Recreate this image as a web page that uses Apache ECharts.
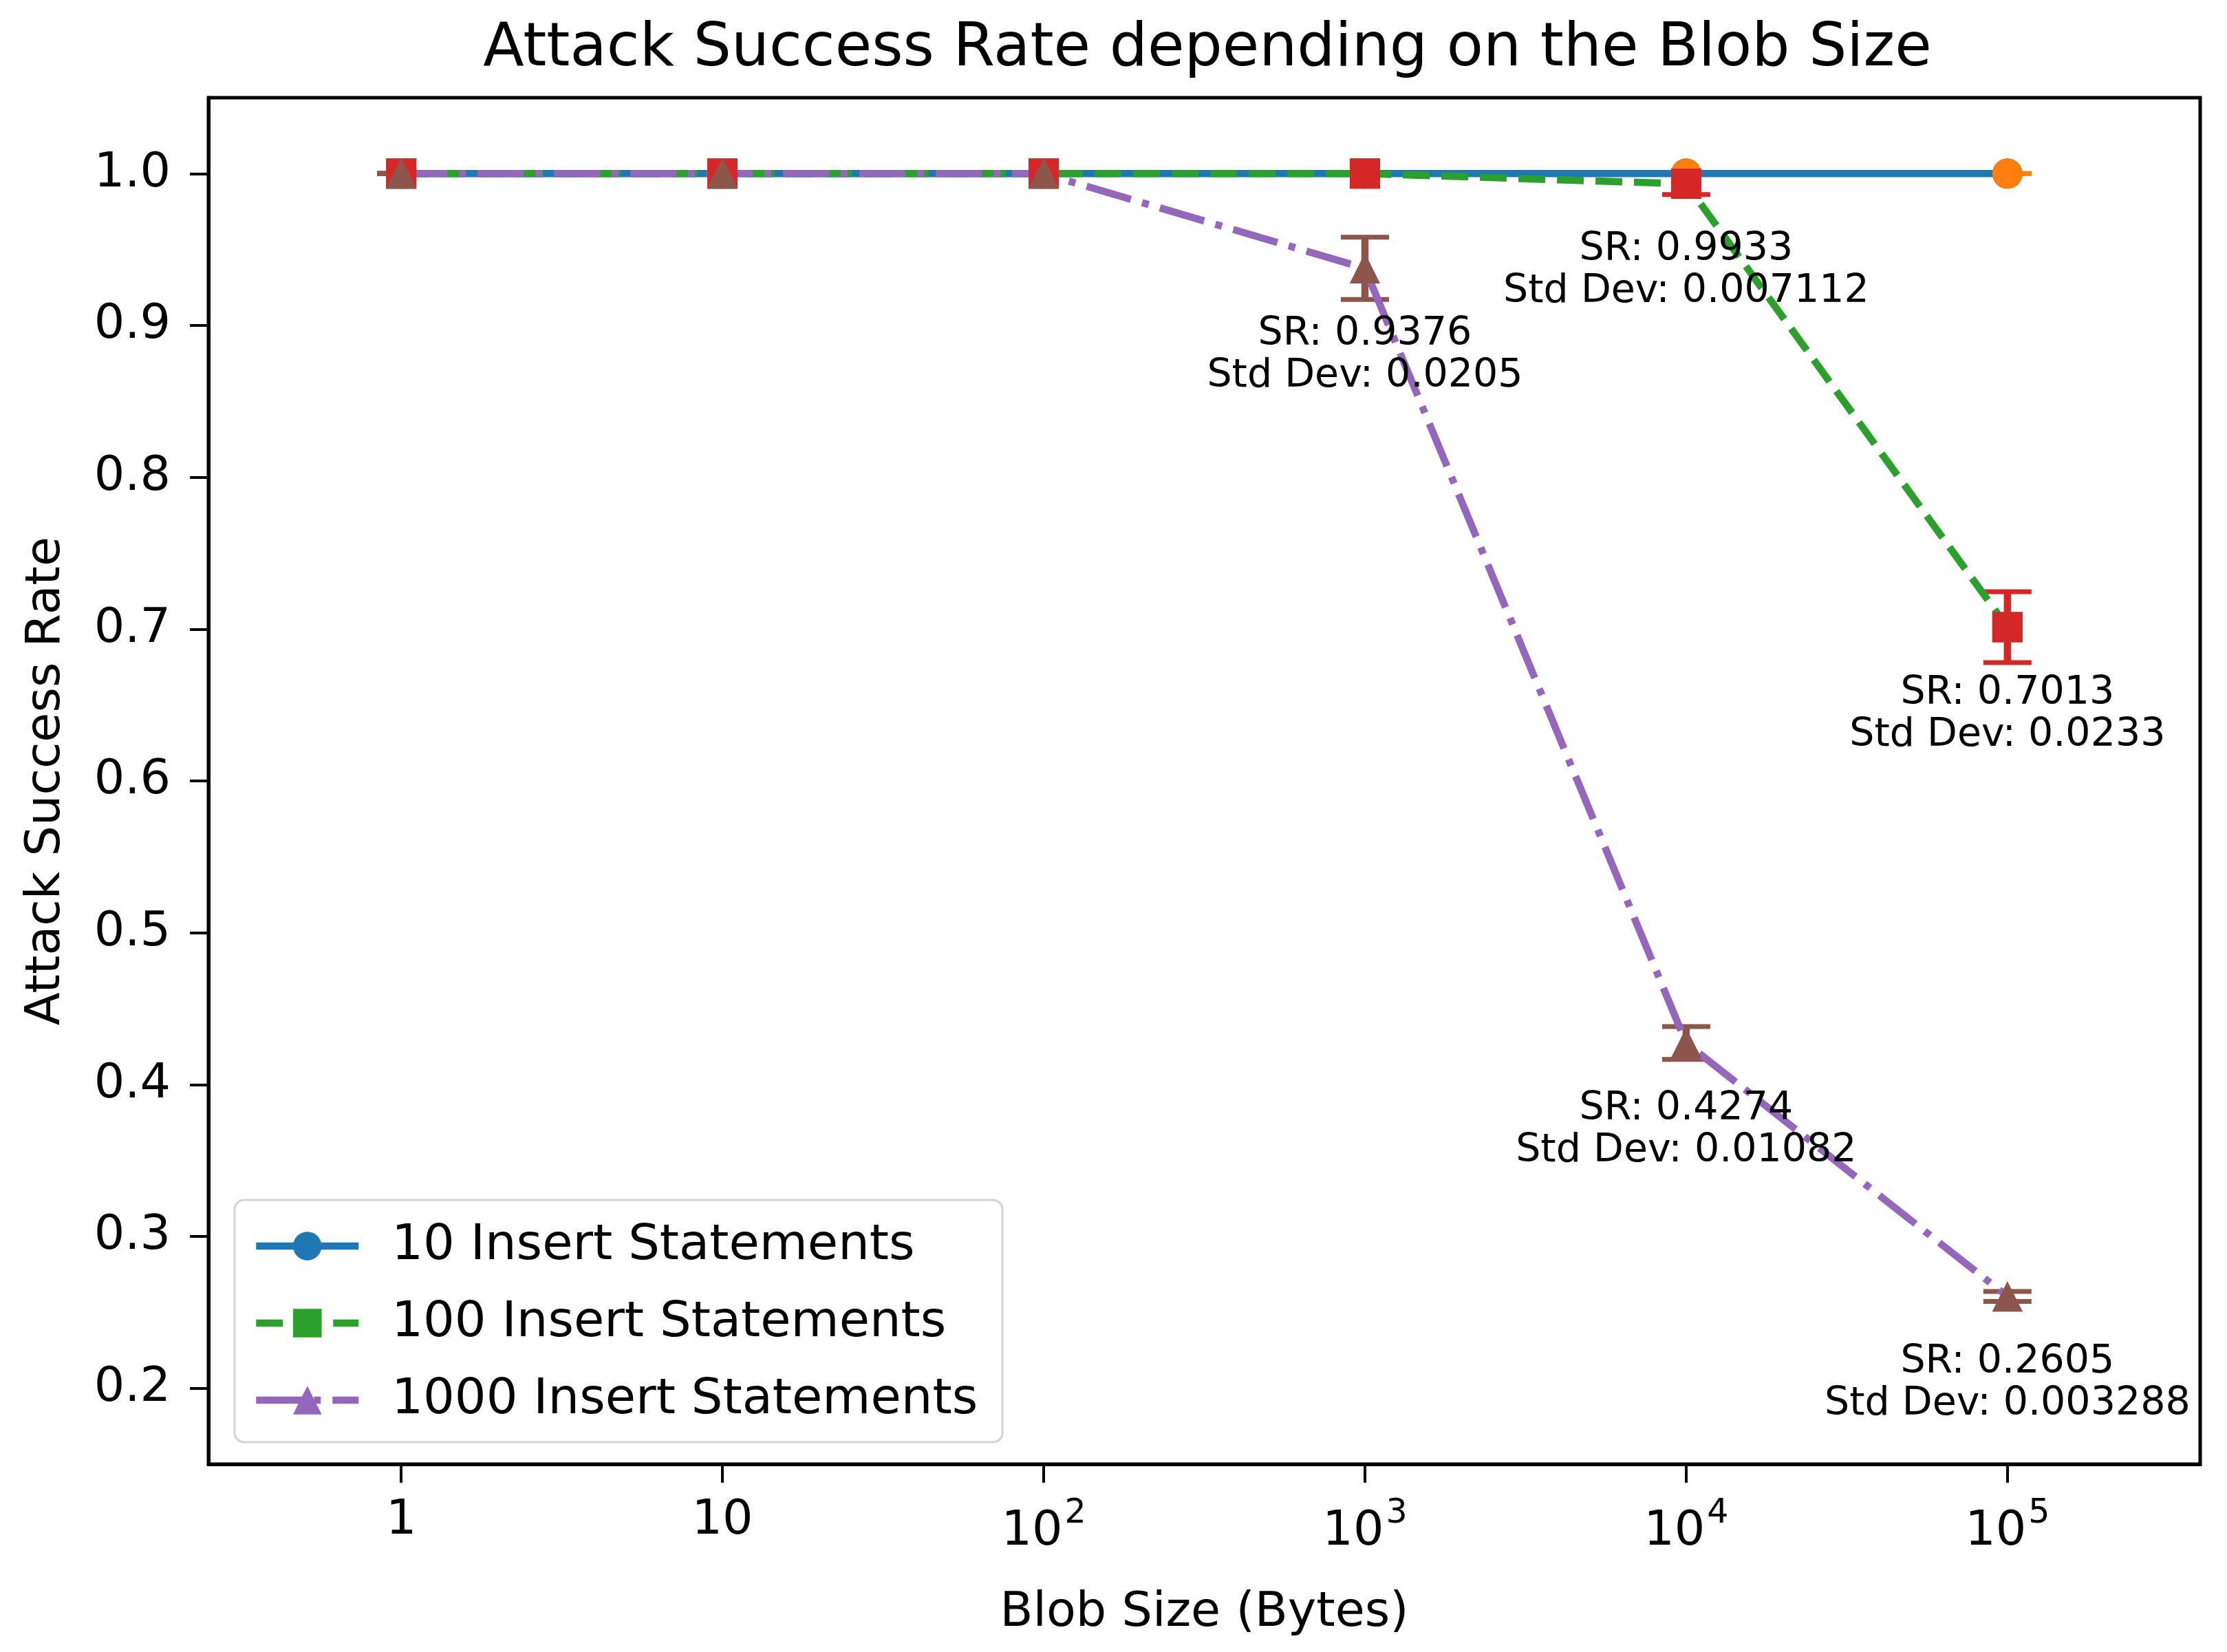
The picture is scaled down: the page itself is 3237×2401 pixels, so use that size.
<!DOCTYPE html>
<html><head><meta charset="utf-8">
<script src="https://cdn.jsdelivr.net/npm/echarts@6/dist/echarts.min.js"></script>
<style>html,body{margin:0;padding:0;background:#fff}#c{width:3237px;height:2401px}</style>
</head><body><div id="c"></div>
<script>
// ---- data ----
const blobSizes = [1, 10, 100, 1000, 10000, 100000];
const xTickLabels = ['1', '10', '10^2', '10^3', '10^4', '10^5'];
const yTicks = [0.2, 0.3, 0.4, 0.5, 0.6, 0.7, 0.8, 0.9, 1.0];
const seriesNames = ['10 Insert Statements', '100 Insert Statements', '1000 Insert Statements'];
const sr10 = [1, 1, 1, 1, 1, 1];
const std10 = [0, 0, 0, 0, 0, 0];
const sr100 = [1, 1, 1, 1, 0.9933, 0.7013];
const std100 = [0, 0, 0, 0, 0.007112, 0.0233];
const sr1000 = [1, 1, 1, 0.9376, 0.4274, 0.2605];
const std1000 = [0, 0, 0, 0.0205, 0.01082, 0.003288];

// ---- styling ----
const FONT = 'DejaVu Sans';
const lineColors = ['#1f77b4', '#2ca02c', '#9467bd'];
const errColors = ['#ff7f0e', '#d62728', '#8c564b'];
const symbols = ['circle', 'rect', 'triangle'];
const lineTypes = ['solid', [39, 17], [67, 17, 10, 17]];
const MS = 44;

const xTickVals = blobSizes.map(b => Math.log10(b));
const srs = [sr10, sr100, sr1000];
const stds = [std10, std100, std1000];

function fmtStd(s) { return String(Number(s.toPrecision(4))); }

const series = [];
for (let k = 0; k < 3; k++) {
  const sr = srs[k], sd = stds[k];
  series.push({
    name: seriesNames[k], type: 'line',
    data: blobSizes.map((b, i) => [Math.log10(b), sr[i]]),
    symbol: symbols[k], symbolSize: MS, showAllSymbol: true,
    itemStyle: { color: lineColors[k] },
    lineStyle: { color: lineColors[k], width: 10.5, type: lineTypes[k] },
    emphasis: { disabled: true }, silent: true, z: 2
  });
  series.push({
    name: 'err' + k, type: 'custom', coordinateSystem: 'cartesian2d',
    data: blobSizes.map((b, i) => [Math.log10(b), sr[i], sd[i]]),
    encode: { x: 0, y: 1 },
    renderItem: function (params, api) {
      const x = api.value(0), y = api.value(1), s = api.value(2);
      const lo = api.coord([x, y - s]), hi = api.coord([x, y + s]);
      const cw = 35;
      const st = { stroke: errColors[k], lineWidth: 10.5 };
      const cst = { stroke: errColors[k], lineWidth: 7 };
      return {
        type: 'group', children: [
          { type: 'line', shape: { x1: lo[0], y1: lo[1], x2: hi[0], y2: hi[1] }, style: st },
          { type: 'line', shape: { x1: lo[0] - cw, y1: lo[1], x2: lo[0] + cw, y2: lo[1] }, style: cst },
          { type: 'line', shape: { x1: hi[0] - cw, y1: hi[1], x2: hi[0] + cw, y2: hi[1] }, style: cst }
        ]
      };
    },
    silent: true, z: 2
  });
  series.push({
    name: 'pts' + k, type: 'scatter',
    symbol: symbols[k], symbolSize: MS,
    itemStyle: { color: errColors[k], opacity: 1 },
    data: blobSizes.map((b, i) => {
      const item = { value: [Math.log10(b), sr[i]] };
      if (sd[i] > 0) {
        item.label = {
          show: true, position: 'bottom', distance: 44,
          formatter: 'SR: ' + sr[i].toFixed(4) + '\nStd Dev: ' + fmtStd(sd[i]),
          fontFamily: FONT, fontSize: 57, lineHeight: 61, color: '#000', align: 'center'
        };
      }
      return item;
    }),
    emphasis: { disabled: true }, silent: true, z: 2
  });
}

const chart = echarts.init(document.getElementById('c'), null, { renderer: 'canvas' });
chart.setOption({
  animation: false,
  backgroundColor: '#fff',
  textStyle: { fontFamily: FONT },
  title: {
    text: 'Attack Success Rate depending on the Blob Size',
    left: 1750, top: 24, textAlign: 'center',
    textStyle: { fontFamily: FONT, fontSize: 87, fontWeight: 'normal', color: '#000' }
  },
  grid: {
    left: 303, right: 39, top: 142, bottom: 273,
    show: true, borderColor: '#000', borderWidth: 5, backgroundColor: 'transparent',
    containLabel: false, outerBoundsMode: 'none'
  },
  legend: {
    data: seriesNames, orient: 'vertical', left: 341, top: 1744,
    padding: [31, 36, 25, 26], itemWidth: 149, itemHeight: 52, itemGap: 40,
    backgroundColor: 'rgba(255,255,255,0.8)', borderColor: '#d4d4d4', borderWidth: 3, borderRadius: 14,
    selectedMode: false,
    lineStyle: { width: 10.5 },
    textStyle: { fontFamily: FONT, fontSize: 72, color: '#000', lineHeight: 52, padding: [0, 0, 0, 43] }
  },
  xAxis: {
    type: 'value', min: -0.6, max: 5.6,
    name: 'Blob Size (Bytes)', nameLocation: 'middle', nameGap: 182,
    nameTextStyle: { fontFamily: FONT, fontSize: 70, color: '#000' },
    axisLine: { show: true, onZero: false, lineStyle: { color: '#000', width: 5 } },
    axisTick: { show: true, customValues: xTickVals, length: 27, lineStyle: { color: '#000', width: 4 } },
    axisLabel: {
      customValues: xTickVals, margin: 48, fontFamily: FONT, fontSize: 70, color: '#000',
      verticalAlign: 'top',
      formatter: function (v) {
        const i = xTickVals.findIndex(t => Math.abs(t - v) < 1e-9);
        if (i < 0) return '';
        const lab = xTickLabels[i];
        const parts = lab.split('^');
        if (parts.length === 2) return '{b|' + parts[0] + '}{s|' + parts[1] + '}';
        return lab;
      },
      rich: {
        b: { fontFamily: FONT, fontSize: 70, color: '#000', padding: [16, 0, 0, 0], verticalAlign: 'bottom' },
        s: { fontFamily: FONT, fontSize: 49, color: '#000', verticalAlign: 'top', padding: [0, 0, 0, 3] }
      }
    },
    splitLine: { show: false }
  },
  yAxis: {
    type: 'value', min: 0.15, max: 1.05,
    name: 'Attack Success Rate', nameLocation: 'middle', nameGap: 200,
    nameTextStyle: { fontFamily: FONT, fontSize: 70, color: '#000' },
    axisLine: { show: true, onZero: false, lineStyle: { color: '#000', width: 5 } },
    axisTick: { show: true, customValues: yTicks, length: 27, lineStyle: { color: '#000', width: 4 } },
    axisLabel: {
      customValues: yTicks, margin: 55, fontFamily: FONT, fontSize: 70, color: '#000',
      formatter: function (v) { return v.toFixed(1); }
    },
    splitLine: { show: false }
  },
  series: series
});
</script>
</body></html>
